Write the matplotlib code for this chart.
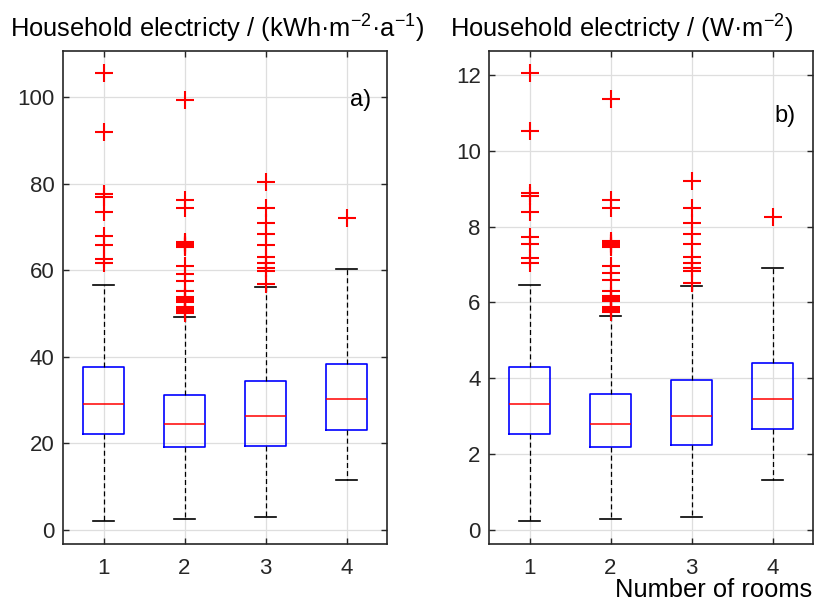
import matplotlib
matplotlib.use('Agg')
import matplotlib.pyplot as plt

plt.rcParams['font.family'] = 'Liberation Sans'
plt.rcParams['mathtext.fontset'] = 'custom'
plt.rcParams['mathtext.rm'] = 'Liberation Sans'
plt.rcParams['mathtext.it'] = 'Liberation Sans:italic'
plt.rcParams['mathtext.bf'] = 'Liberation Sans:bold'

rooms = [1, 2, 3, 4]

# a) household electricity, kWh/(m2 a)
a_med = [29.1, 24.5, 26.3, 30.3]
a_q1 = [22.1, 19.2, 19.5, 23.2]
a_q3 = [37.6, 31.3, 34.5, 38.4]
a_lo = [2.0, 2.6, 3.1, 11.5]
a_hi = [56.6, 49.3, 56.2, 60.3]
a_out1 = [105.6, 91.8, 77.7, 76.9, 73.4, 67.8, 65.8, 62.6, 61.7]
a_out2 = [99.4, 76.3, 74.4, 66.5, 66.2, 65.9, 65.6, 65.3, 61.0, 59.2, 57.6, 55.2,
          53.9, 53.5, 53.1, 52.7, 51.5, 51.0, 50.6, 50.2]
a_out3 = [80.4, 74.4, 70.8, 68.4, 65.9, 63.0, 61.6, 60.5, 59.8, 56.9]
a_out4 = [72.0]

# b) household electricity, W/m2
b_med = [3.32, 2.80, 3.01, 3.46]
b_q1 = [2.52, 2.19, 2.23, 2.65]
b_q3 = [4.30, 3.58, 3.94, 4.40]
b_lo = [0.22, 0.29, 0.34, 1.31]
b_hi = [6.47, 5.63, 6.43, 6.91]
b_out1 = [12.06, 10.52, 8.88, 8.80, 8.40, 7.73, 7.54, 7.16, 7.04]
b_out2 = [11.37, 8.70, 8.50, 7.61, 7.57, 7.53, 7.49, 7.46, 6.96, 6.77, 6.58, 6.31,
          6.18, 6.13, 6.08, 6.03, 5.89, 5.84, 5.79, 5.74]
b_out3 = [9.20, 8.50, 8.10, 7.82, 7.53, 7.21, 7.04, 6.92, 6.84, 6.52]
b_out4 = [8.25]

a_ticks = [0, 20, 40, 60, 80, 100]
b_ticks = [0, 2, 4, 6, 8, 10, 12]

ink = '#262626'


def make_stats(med, q1, q3, lo, hi, outs):
    stats = []
    for i in range(len(med)):
        stats.append(dict(med=med[i], q1=q1[i], q3=q3[i], whislo=lo[i],
                          whishi=hi[i], fliers=outs[i]))
    return stats


def draw_panel(ax, stats, yticks, ylim, tag, tag_xy):
    ax.bxp(stats, positions=rooms, widths=0.5, capwidths=0.25,
           boxprops=dict(color='blue', linewidth=1.2),
           medianprops=dict(color='red', linewidth=1.1),
           whiskerprops=dict(color='black', linewidth=0.9, linestyle=(0, (4, 2.5))),
           capprops=dict(color='black', linewidth=1.2),
           flierprops=dict(marker='+', markeredgecolor='red', markersize=12.5,
                           markeredgewidth=1.5, linestyle='none'),
           manage_ticks=False)
    ax.set_xlim(0.5, 4.5)
    ax.set_ylim(*ylim)
    ax.set_xticks(rooms)
    ax.set_yticks(yticks)
    ax.grid(True, color='#dedede', linewidth=0.9)
    ax.set_axisbelow(True)
    ax.tick_params(direction='in', length=4.5, width=1.0, color=ink,
                   labelcolor=ink, labelsize=16, top=True, right=True)
    ax.tick_params(axis='x', pad=10)
    ax.tick_params(axis='y', pad=6)
    for s in ax.spines.values():
        s.set_color(ink)
        s.set_linewidth(1.2)
    ax.text(tag_xy[0], tag_xy[1], tag, fontsize=17, color='black',
            ha='center', va='center')


fig = plt.figure(figsize=(8.16, 6.01), dpi=100)
ax1 = fig.add_axes([63 / 816, 57 / 601, 324 / 816, 493 / 601])
ax2 = fig.add_axes([489 / 816, 57 / 601, 324 / 816, 493 / 601])

draw_panel(ax1, make_stats(a_med, a_q1, a_q3, a_lo, a_hi, [a_out1, a_out2, a_out3, a_out4]),
           a_ticks, (-3.2, 110.6), 'a)', (4.17, 99.3))
draw_panel(ax2, make_stats(b_med, b_q1, b_q3, b_lo, b_hi, [b_out1, b_out2, b_out3, b_out4]),
           b_ticks, (-0.38, 12.64), 'b)', (4.16, 10.92))

fig.text(10 / 816, 1 - 38 / 601, 'Household electricty / (kWh·m$^{-2}$·a$^{-1}$)',
         fontsize=18.4, color='black', ha='left', va='baseline')
fig.text(450 / 816, 1 - 38 / 601, 'Household electricty / (W·m$^{-2}$)',
         fontsize=18.4, color='black', ha='left', va='baseline')
fig.text(812 / 816, 1 - 597 / 601, 'Number of rooms',
         fontsize=18.4, color='black', ha='right', va='baseline')

fig.savefig('out.png', dpi=100)
